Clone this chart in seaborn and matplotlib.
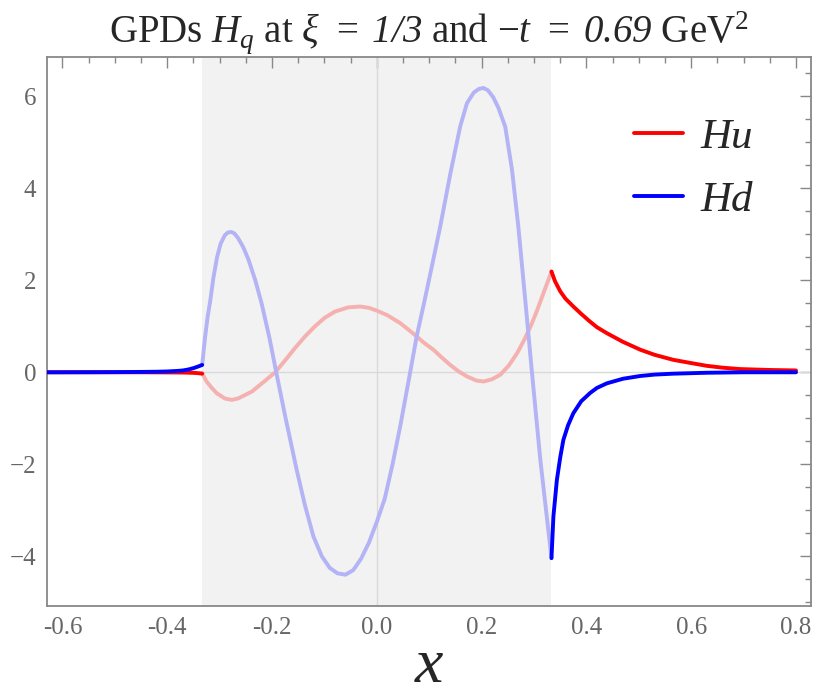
import matplotlib
matplotlib.use("Agg")
import matplotlib.pyplot as plt
import seaborn as sns
from matplotlib.lines import Line2D
from matplotlib.ticker import MultipleLocator, FormatStrFormatter

OUT_PATH = "out.png"

XI = 1 / 3

# H_u, x < -xi
u_left_x = [-0.63, -0.45, -0.40, -0.37, -0.35, -0.34, -0.3333]
u_left_y = [0.0, 0.0, -0.003, -0.006, -0.012, -0.02, -0.03]

# H_u, ERBL region
u_mid_x = [-0.3333, -0.325, -0.315, -0.305, -0.29, -0.277, -0.265, -0.2386, -0.215, -0.194,
           -0.175, -0.156, -0.137, -0.118, -0.10, -0.08, -0.055, -0.032, -0.015, 0.0,
           0.02, 0.0445, 0.06, 0.076, 0.09, 0.108, 0.124, 0.14, 0.156, 0.172,
           0.19, 0.204, 0.22, 0.236, 0.252, 0.268, 0.282, 0.2935, 0.305, 0.318,
           0.3333]
u_mid_y = [-0.02, -0.2, -0.34, -0.46, -0.57, -0.60, -0.57, -0.42, -0.2, 0.0,
           0.26, 0.53, 0.78, 1.0, 1.18, 1.32, 1.41, 1.43, 1.40, 1.34,
           1.24, 1.07, 0.93, 0.78, 0.64, 0.49, 0.32, 0.16, 0.02, -0.09,
           -0.18, -0.20, -0.15, -0.05, 0.15, 0.42, 0.72, 1.0, 1.32, 1.72,
           2.19]

# H_u, x > xi
u_right_x = [0.3333, 0.34, 0.35, 0.36, 0.375, 0.39, 0.407, 0.42, 0.439, 0.47,
             0.503, 0.53, 0.566, 0.60, 0.63, 0.66, 0.693, 0.75, 0.80]
u_right_y = [2.19, 1.98, 1.76, 1.60, 1.43, 1.27, 1.10, 0.98, 0.85, 0.66,
             0.49, 0.38, 0.27, 0.20, 0.14, 0.10, 0.07, 0.05, 0.04]

# H_d, x < -xi
d_left_x = [-0.63, -0.55, -0.50, -0.45, -0.42, -0.40, -0.38, -0.37, -0.36, -0.35,
            -0.345, -0.34, -0.3333]
d_left_y = [0.0, 0.002, 0.004, 0.008, 0.012, 0.018, 0.03, 0.04, 0.06, 0.09,
            0.11, 0.13, 0.16]

# H_d, ERBL region
d_mid_x = [-0.3333, -0.328, -0.323, -0.318, -0.312, -0.305, -0.298, -0.29, -0.284, -0.278,
           -0.272, -0.265, -0.255, -0.245, -0.232, -0.22, -0.205, -0.192, -0.175, -0.153,
           -0.137, -0.121, -0.105, -0.09, -0.075, -0.06, -0.045, -0.03, -0.015, 0.0,
           0.015, 0.03, 0.045, 0.0636, 0.076, 0.09, 0.105, 0.121, 0.14, 0.159,
           0.172, 0.185, 0.195, 0.2035, 0.212, 0.222, 0.232, 0.245, 0.258, 0.27,
           0.283, 0.296, 0.312, 0.3333]
d_mid_y = [0.16, 0.75, 1.2, 1.55, 2.05, 2.5, 2.8, 2.98, 3.04, 3.05,
           3.02, 2.92, 2.72, 2.45, 2.0, 1.5, 0.75, 0.0, -0.95, -2.12,
           -2.9, -3.57, -4.0, -4.25, -4.37, -4.40, -4.3, -4.05, -3.7, -3.25,
           -2.75, -2.0, -1.15, 0.0, 0.78, 1.5, 2.3, 3.17, 4.3, 5.34,
           5.85, 6.08, 6.16, 6.18, 6.13, 5.98, 5.75, 5.34, 4.4, 3.17,
           1.6, 0.0, -1.9, -4.04]

# H_d, x > xi
d_right_x = [0.3333, 0.337, 0.3436, 0.35, 0.356, 0.365, 0.375, 0.39, 0.407, 0.42,
             0.439, 0.47, 0.503, 0.53, 0.566, 0.63, 0.70, 0.80]
d_right_y = [-4.04, -3.13, -2.34, -1.85, -1.47, -1.15, -0.89, -0.63, -0.45, -0.34,
             -0.24, -0.14, -0.08, -0.05, -0.03, -0.01, 0.0, 0.0]

RED, BLUE = "#ff0000", "#0000ff"
PINK, LAVENDER = "#f5b0b0", "#b3b3f5"
FRAME = "#888888"
LW = 2.8

sns.set_theme(style="white")
plt.rcParams["font.family"] = ["Liberation Serif", "DejaVu Serif"]
plt.rcParams["mathtext.fontset"] = "custom"
plt.rcParams["mathtext.rm"] = "Liberation Serif"
plt.rcParams["mathtext.it"] = "Liberation Serif:italic"
plt.rcParams["mathtext.bf"] = "Liberation Serif:bold"
# \mathsf used for italic digits (mathit keeps digits upright)
plt.rcParams["mathtext.sf"] = "Liberation Serif:italic"

fig = plt.figure(figsize=(8.15, 6.98), dpi=100)
ax = fig.add_axes([0.058, 0.1318, 0.9367, 0.787])

ax.axvspan(-XI, XI, color="#f2f2f2", lw=0, zorder=0)
ax.axhline(0, color="#d9d9d9", lw=1, zorder=1)
ax.axvline(0, color="#d9d9d9", lw=1, zorder=1)

kw = dict(ax=ax, lw=LW, sort=False, estimator=None, legend=False)
sns.lineplot(x=u_mid_x, y=u_mid_y, color=PINK, zorder=2, **kw)
sns.lineplot(x=d_mid_x, y=d_mid_y, color=LAVENDER, zorder=3, **kw)
sns.lineplot(x=u_left_x, y=u_left_y, color=RED, zorder=4, **kw)
sns.lineplot(x=d_left_x, y=d_left_y, color=BLUE, zorder=5, **kw)
sns.lineplot(x=u_right_x, y=u_right_y, color=RED, zorder=4, **kw)
sns.lineplot(x=d_right_x, y=d_right_y, color=BLUE, zorder=5, **kw)

ax.set_xlim(-0.629, 0.828)
ax.set_ylim(-5.08, 6.86)
ax.xaxis.set_major_locator(MultipleLocator(0.2))
ax.xaxis.set_minor_locator(MultipleLocator(0.05))
ax.yaxis.set_major_locator(MultipleLocator(2))
ax.yaxis.set_minor_locator(MultipleLocator(0.5))
ax.xaxis.set_major_formatter(FormatStrFormatter("%.1f"))
ax.tick_params(which="both", direction="in", top=True, right=True, color=FRAME,
               labelcolor="#666666", labelsize=18, width=1)
ax.tick_params(which="major", length=8, pad=8)
ax.tick_params(which="minor", length=4)
for sp in ax.spines.values():
    sp.set_color(FRAME)
    sp.set_linewidth(1.3)

ax.set_title(r"GPDs $H_q$ at $\xi\;\,=\;\mathsf{1/3}$ and $-t\;\,=\;\mathsf{0.69}$ GeV$^2$",
             fontsize=28, pad=10)
ax.set_xlabel(r"$x$", fontsize=46, labelpad=-1)

handles = [Line2D([], [], color=RED, lw=LW), Line2D([], [], color=BLUE, lw=LW)]
ax.legend(handles, ["Hu", "Hd"], loc="center left", bbox_to_anchor=(0.7685, 0.7955),
          frameon=False, borderpad=0, borderaxespad=0, handlelength=1.15,
          handletextpad=0.4, labelspacing=0.55,
          prop=dict(family="Liberation Serif", style="italic", size=31))

fig.savefig(OUT_PATH, dpi=100)
